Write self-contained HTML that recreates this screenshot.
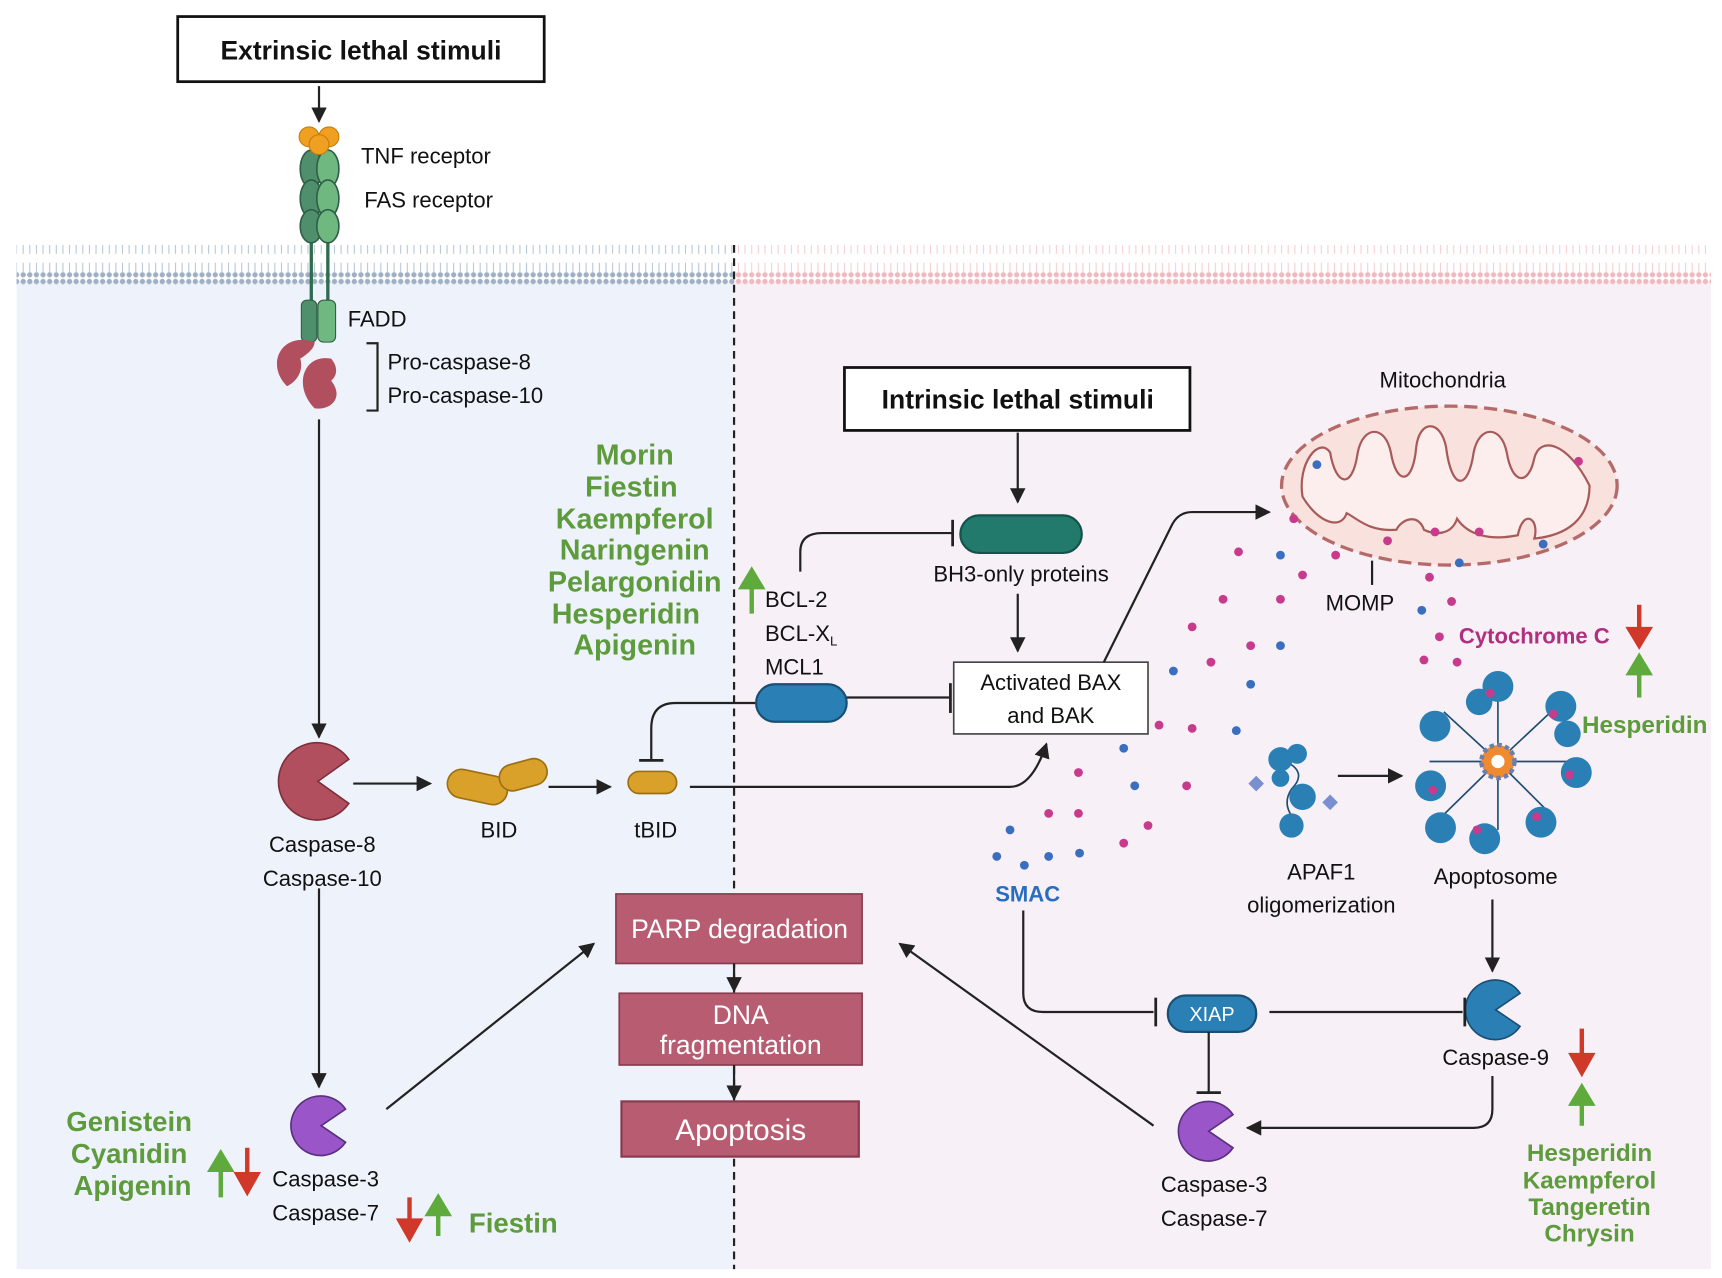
<!DOCTYPE html>
<html><head><meta charset="utf-8"><style>html,body{margin:0;padding:0;background:#fff}svg{display:block}text{font-family:"Liberation Sans",sans-serif}</style></head><body>
<svg width="1722" height="1278" viewBox="0 0 1560 1158" preserveAspectRatio="none" xmlns="http://www.w3.org/2000/svg">
<defs>
<marker id="ar" viewBox="0 0 10 10" refX="9" refY="5" markerWidth="7" markerHeight="7" orient="auto"><path d="M0,0L10,5L0,10z" fill="#222"/></marker>
<pattern id="mb" width="6" height="36" patternUnits="userSpaceOnUse"><circle cx="3" cy="3" r="2.4" fill="#9fb0c4"/><circle cx="3" cy="33" r="2.4" fill="#9fb0c4"/><line x1="3" y1="5" x2="3" y2="14" stroke="#b8c6d6" stroke-width="1"/><line x1="3" y1="22" x2="3" y2="31" stroke="#b8c6d6" stroke-width="1"/></pattern>
<pattern id="mp" width="6" height="36" patternUnits="userSpaceOnUse"><circle cx="3" cy="3" r="2.4" fill="#f0b8bf"/><circle cx="3" cy="33" r="2.4" fill="#f0b8bf"/><line x1="3" y1="5" x2="3" y2="14" stroke="#f5cfd3" stroke-width="1"/><line x1="3" y1="22" x2="3" y2="31" stroke="#f5cfd3" stroke-width="1"/></pattern>
</defs>
<rect x="15" y="255" width="650" height="895" fill="#eef3fb"/>
<rect x="665" y="255" width="885" height="895" fill="#f7f0f6"/>
<rect x="15" y="222" width="650" height="36" fill="url(#mb)"/>
<rect x="665" y="222" width="885" height="36" fill="url(#mp)"/>
<line x1="665" y1="222" x2="665" y2="1150" stroke="#222" stroke-width="2" stroke-dasharray="7,5"/>

<rect x="161" y="15" width="332" height="59" fill="#fff" stroke="#111" stroke-width="2.5"/>
<text x="327" y="54" font-size="24" font-weight="bold" text-anchor="middle" fill="#111">Extrinsic lethal stimuli</text>
<line x1="289" y1="78" x2="289" y2="110" stroke="#222" stroke-width="2" marker-end="url(#ar)"/>
<!-- receptor -->
<line x1="282" y1="210" x2="282" y2="280" stroke="#2f6b4f" stroke-width="3"/>
<line x1="297" y1="210" x2="297" y2="280" stroke="#2f6b4f" stroke-width="3"/>
<g fill="#4f8f6b" stroke="#2f5f48" stroke-width="1.5">
<ellipse cx="282" cy="153" rx="10" ry="17"/><ellipse cx="282" cy="180" rx="10" ry="17"/><ellipse cx="282" cy="205" rx="10" ry="15"/>
</g>
<g fill="#6fb87f" stroke="#2f5f48" stroke-width="1.5">
<ellipse cx="297" cy="153" rx="10" ry="17"/><ellipse cx="297" cy="180" rx="10" ry="17"/><ellipse cx="297" cy="205" rx="10" ry="15"/>
</g>
<g fill="#f0a020" stroke="#c77c10"><circle cx="280" cy="124" r="9"/><circle cx="298" cy="124" r="9"/><circle cx="289" cy="131" r="9"/></g>
<rect x="273" y="272" width="14" height="38" rx="5" fill="#4f8f6b" stroke="#2f5f48"/>
<rect x="288" y="272" width="16" height="38" rx="5" fill="#6fb87f" stroke="#2f5f48"/>
<path d="M285,310 C255,300 240,330 260,350 C270,345 275,335 272,325 C280,320 285,315 285,310Z" fill="#b24f5e"/>
<path d="M300,325 C275,320 265,350 285,370 C300,372 312,360 300,345 C306,340 306,332 300,325Z" fill="#b24f5e"/>
<text x="327" y="148" font-size="20" fill="#111">TNF receptor</text>
<text x="330" y="188" font-size="20" fill="#111">FAS receptor</text>
<text x="315" y="296" font-size="20" fill="#111">FADD</text>
<path d="M332,311 H342 V372 H332" fill="none" stroke="#222" stroke-width="2"/>
<text x="351" y="335" font-size="20" fill="#111">Pro-caspase-8</text>
<text x="351" y="365" font-size="20" fill="#111">Pro-caspase-10</text>
<line x1="289" y1="380" x2="289" y2="668" stroke="#222" stroke-width="2" marker-end="url(#ar)"/>
<!-- caspase 8 -->
<path d="M288,708 L316,688 A35,35 0 1 0 316,728 Z" fill="#b24f5e" stroke="#7d2f3c" stroke-width="1.5"/>
<text x="292" y="772" font-size="20" text-anchor="middle" fill="#111">Caspase-8</text>
<text x="292" y="803" font-size="20" text-anchor="middle" fill="#111">Caspase-10</text>
<line x1="320" y1="710" x2="390" y2="710" stroke="#222" stroke-width="2" marker-end="url(#ar)"/>
<rect x="405" y="700" width="55" height="26" rx="13" fill="#d9a02a" stroke="#9c6f12" stroke-width="1.5" transform="rotate(12 432 713)"/>
<rect x="452" y="690" width="44" height="24" rx="12" fill="#d9a02a" stroke="#9c6f12" stroke-width="1.5" transform="rotate(-15 474 702)"/>
<text x="452" y="759" font-size="20" text-anchor="middle" fill="#111">BID</text>
<line x1="497" y1="713" x2="553" y2="713" stroke="#222" stroke-width="2" marker-end="url(#ar)"/>
<rect x="569" y="699" width="44" height="20" rx="10" fill="#d9a02a" stroke="#9c6f12" stroke-width="1.5"/>
<text x="594" y="759" font-size="20" text-anchor="middle" fill="#111">tBID</text>
<path d="M685,637 H612 Q590,637 590,660 V688" fill="none" stroke="#222" stroke-width="2"/>
<line x1="579" y1="689" x2="601" y2="689" stroke="#222" stroke-width="2.5"/>
<path d="M625,713 H915 Q935,713 948,674" fill="none" stroke="#222" stroke-width="2" marker-end="url(#ar)"/>
<!-- flavonoid list -->
<g font-size="26" font-weight="bold" fill="#5e9b3c" text-anchor="middle">
<text x="575" y="421">Morin</text><text x="572" y="450">Fiestin</text><text x="575" y="479">Kaempferol</text><text x="575" y="507">Naringenin</text><text x="575" y="536">Pelargonidin</text><text x="567" y="565">Hesperidin</text><text x="575" y="593">Apigenin</text>
</g>
<path d="M681,556 V530 M672,532 L681,517 L690,532Z" stroke="#5eaa3c" stroke-width="4" fill="#5eaa3c"/>
<text x="693" y="550" font-size="20" fill="#111">BCL-2</text>
<text x="693" y="581" font-size="20" fill="#111">BCL-X<tspan font-size="12" dy="4">L</tspan></text>
<text x="693" y="611" font-size="20" fill="#111">MCL1</text>
<rect x="685" y="620" width="82" height="34" rx="17" fill="#2a80b5" stroke="#1a4f75" stroke-width="2"/>
<line x1="767" y1="632" x2="860" y2="632" stroke="#222" stroke-width="2"/>
<line x1="861" y1="619" x2="861" y2="646" stroke="#222" stroke-width="2.5"/>
<path d="M725,518 V500 Q725,483 745,483 H862" fill="none" stroke="#222" stroke-width="2"/>
<line x1="863" y1="471" x2="863" y2="495" stroke="#222" stroke-width="2.5"/>
<rect x="870" y="467" width="110" height="34" rx="17" fill="#217a6c" stroke="#14534a" stroke-width="2"/>
<text x="925" y="527" font-size="20" text-anchor="middle" fill="#111">BH3-only proteins</text>
<rect x="765" y="333" width="313" height="57" fill="#fff" stroke="#111" stroke-width="2.5"/>
<text x="922" y="370" font-size="24" font-weight="bold" text-anchor="middle" fill="#111">Intrinsic lethal stimuli</text>
<line x1="922" y1="392" x2="922" y2="455" stroke="#222" stroke-width="2" marker-end="url(#ar)"/>
<line x1="922" y1="538" x2="922" y2="590" stroke="#222" stroke-width="2" marker-end="url(#ar)"/>
<rect x="864" y="600" width="176" height="65" fill="#fff" stroke="#444" stroke-width="1.5"/>
<text x="952" y="625" font-size="20" text-anchor="middle" fill="#111">Activated BAX</text>
<text x="952" y="655" font-size="20" text-anchor="middle" fill="#111">and BAK</text>
<path d="M1000,600 L1062,475 Q1068,464 1080,464 H1150" fill="none" stroke="#222" stroke-width="2" marker-end="url(#ar)"/>
<!-- mitochondria -->
<text x="1307" y="351" font-size="20" text-anchor="middle" fill="#111">Mitochondria</text>
<ellipse cx="1313" cy="440" rx="152" ry="72" fill="#f9e2de" stroke="#b56a6a" stroke-width="3" stroke-dasharray="12,6"/>
<path d="M1180,450 C1175,420 1195,395 1205,410 C1210,440 1225,445 1230,410 C1235,385 1255,385 1260,410 C1265,440 1280,440 1283,405 C1286,380 1305,380 1310,405 C1315,445 1330,445 1335,410 C1340,385 1360,385 1365,410 C1370,440 1385,440 1390,415 C1395,395 1420,400 1440,440 C1440,470 1420,485 1390,488 C1395,470 1380,460 1375,485 C1350,490 1330,485 1320,470 C1315,485 1300,485 1290,480 C1285,465 1270,470 1265,480 C1240,482 1230,470 1220,465 C1215,480 1195,475 1180,450Z" fill="#fbeeec" stroke="#a85a5a" stroke-width="2"/>
<line x1="1243" y1="508" x2="1243" y2="530" stroke="#222" stroke-width="2"/>
<text x="1232" y="553" font-size="20" text-anchor="middle" fill="#111">MOMP</text>
<g fill="#c83a8c">
<circle cx="1172" cy="470" r="4"/><circle cx="1210" cy="503" r="4"/><circle cx="1257" cy="490" r="4"/><circle cx="1300" cy="482" r="4"/><circle cx="1340" cy="482" r="4"/><circle cx="1430" cy="418" r="4"/>
<circle cx="1122" cy="500" r="4"/><circle cx="1180" cy="521" r="4"/><circle cx="1160" cy="543" r="4"/><circle cx="1108" cy="543" r="4"/><circle cx="1080" cy="568" r="4"/><circle cx="1133" cy="585" r="4"/><circle cx="1097" cy="600" r="4"/><circle cx="1050" cy="657" r="4"/><circle cx="1080" cy="660" r="4"/><circle cx="1075" cy="712" r="4"/><circle cx="977" cy="700" r="4"/><circle cx="950" cy="737" r="4"/><circle cx="977" cy="737" r="4"/><circle cx="1040" cy="748" r="4"/><circle cx="1018" cy="764" r="4"/>
<circle cx="1295" cy="523" r="4"/><circle cx="1315" cy="545" r="4"/><circle cx="1304" cy="577" r="4"/><circle cx="1290" cy="598" r="4"/><circle cx="1320" cy="600" r="4"/>
</g>
<g fill="#3a6fc0">
<circle cx="1193" cy="421" r="4"/><circle cx="1398" cy="493" r="4"/><circle cx="1160" cy="503" r="4"/><circle cx="1160" cy="585" r="4"/><circle cx="1063" cy="608" r="4"/><circle cx="1133" cy="620" r="4"/><circle cx="1120" cy="662" r="4"/><circle cx="1018" cy="678" r="4"/><circle cx="1028" cy="712" r="4"/><circle cx="915" cy="752" r="4"/><circle cx="903" cy="776" r="4"/><circle cx="928" cy="784" r="4"/><circle cx="950" cy="776" r="4"/><circle cx="978" cy="773" r="4"/><circle cx="1322" cy="510" r="4"/><circle cx="1288" cy="553" r="4"/>
</g>
<text x="1390" y="583" font-size="20" font-weight="bold" text-anchor="middle" fill="#b03080">Cytochrome C</text>
<path d="M1485,548 V572 M1476,570 L1485,585 L1494,570Z" stroke="#d0382a" stroke-width="4" fill="#d0382a"/>
<path d="M1485,632 V608 M1476,610 L1485,595 L1494,610Z" stroke="#5eaa3c" stroke-width="4" fill="#5eaa3c"/>
<text x="1490" y="664" font-size="22" font-weight="bold" text-anchor="middle" fill="#5e9b3c">Hesperidin</text>
<!-- apoptosome -->
<g stroke="#1f4f70" stroke-width="1.5">
<line x1="1357" y1="690" x2="1420" y2="690"/><line x1="1357" y1="690" x2="1405" y2="645"/><line x1="1357" y1="690" x2="1357" y2="628"/><line x1="1357" y1="690" x2="1308" y2="645"/><line x1="1357" y1="690" x2="1295" y2="690"/><line x1="1357" y1="690" x2="1308" y2="738"/><line x1="1357" y1="690" x2="1357" y2="752"/><line x1="1357" y1="690" x2="1405" y2="738"/>
</g>
<g fill="#2a80b5">
<circle cx="1428" cy="700" r="14"/><circle cx="1414" cy="640" r="14"/><circle cx="1357" cy="622" r="14"/><circle cx="1300" cy="658" r="14"/><circle cx="1296" cy="712" r="14"/><circle cx="1305" cy="750" r="14"/><circle cx="1345" cy="760" r="14"/><circle cx="1396" cy="745" r="14"/><circle cx="1340" cy="636" r="12"/><circle cx="1420" cy="665" r="12"/>
</g>
<g fill="#c83a8c"><circle cx="1422" cy="702" r="4"/><circle cx="1407" cy="647" r="4"/><circle cx="1350" cy="628" r="4"/><circle cx="1298" cy="716" r="4"/><circle cx="1338" cy="752" r="4"/><circle cx="1392" cy="740" r="4"/></g>
<circle cx="1357" cy="690" r="15" fill="#f08a30" stroke="#6a7fb0" stroke-width="4" stroke-dasharray="4,3"/>
<circle cx="1357" cy="690" r="6" fill="#fff"/>
<!-- APAF1 -->
<path d="M1165,690 Q1185,700 1170,715 Q1160,730 1175,745" fill="none" stroke="#1f4f70" stroke-width="1.5"/>
<g fill="#2a80b5"><circle cx="1160" cy="688" r="11"/><circle cx="1175" cy="683" r="9"/><circle cx="1180" cy="722" r="12"/><circle cx="1170" cy="748" r="11"/><circle cx="1160" cy="705" r="8"/></g>
<rect x="1133" y="705" width="10" height="10" fill="#7a8fd0" transform="rotate(45 1138 710)"/>
<rect x="1200" y="722" width="10" height="10" fill="#7a8fd0" transform="rotate(45 1205 727)"/>
<line x1="1212" y1="703" x2="1270" y2="703" stroke="#222" stroke-width="2" marker-end="url(#ar)"/>
<text x="1197" y="797" font-size="20" text-anchor="middle" fill="#111">APAF1</text>
<text x="1197" y="827" font-size="20" text-anchor="middle" fill="#111">oligomerization</text>
<text x="1355" y="801" font-size="20" text-anchor="middle" fill="#111">Apoptosome</text>
<line x1="1352" y1="815" x2="1352" y2="880" stroke="#222" stroke-width="2" marker-end="url(#ar)"/>
<path d="M1355,915 L1377,900 A27,27 0 1 0 1377,930 Z" fill="#2a80b5" stroke="#1a4f75" stroke-width="1.5"/>
<text x="1355" y="965" font-size="20" text-anchor="middle" fill="#111">Caspase-9</text>
<path d="M1433,932 V958 M1424,956 L1433,972 L1442,956Z" stroke="#d0382a" stroke-width="4" fill="#d0382a"/>
<path d="M1433,1020 V998 M1424,1000 L1433,985 L1442,1000Z" stroke="#5eaa3c" stroke-width="4" fill="#5eaa3c"/>
<g font-size="22" font-weight="bold" fill="#5e9b3c" text-anchor="middle">
<text x="1440" y="1052">Hesperidin</text><text x="1440" y="1077">Kaempferol</text><text x="1440" y="1101">Tangeretin</text><text x="1440" y="1125">Chrysin</text>
</g>
<text x="931" y="817" font-size="20" font-weight="bold" text-anchor="middle" fill="#2a6cc0">SMAC</text>
<path d="M927,825 V900 Q927,917 945,917 H1045" fill="none" stroke="#222" stroke-width="2"/>
<line x1="1047" y1="904" x2="1047" y2="930" stroke="#222" stroke-width="2.5"/>
<rect x="1058" y="902" width="80" height="33" rx="16" fill="#2a80b5" stroke="#1a4f75" stroke-width="2"/>
<text x="1098" y="925" font-size="18" text-anchor="middle" fill="#fff">XIAP</text>
<line x1="1150" y1="917" x2="1325" y2="917" stroke="#222" stroke-width="2"/>
<line x1="1327" y1="904" x2="1327" y2="930" stroke="#222" stroke-width="2.5"/>
<line x1="1095" y1="935" x2="1095" y2="990" stroke="#222" stroke-width="2"/>
<line x1="1084" y1="990" x2="1106" y2="990" stroke="#222" stroke-width="2.5"/>
<path d="M1095,1025 L1117,1010 A27,27 0 1 0 1117,1040 Z" fill="#9a55c8" stroke="#5a2f80" stroke-width="1.5"/>
<text x="1100" y="1080" font-size="20" text-anchor="middle" fill="#111">Caspase-3</text>
<text x="1100" y="1111" font-size="20" text-anchor="middle" fill="#111">Caspase-7</text>
<path d="M1352,975 V1005 Q1352,1022 1335,1022 H1130" fill="none" stroke="#222" stroke-width="2" marker-end="url(#ar)"/>
<line x1="1045" y1="1020" x2="815" y2="855" stroke="#222" stroke-width="2" marker-end="url(#ar)"/>
<!-- central boxes -->
<rect x="558" y="810" width="223" height="63" fill="#b85c72" stroke="#8a3a4e" stroke-width="1.5"/>
<text x="670" y="850" font-size="24" text-anchor="middle" fill="#fff">PARP degradation</text>
<rect x="561" y="900" width="220" height="65" fill="#b85c72" stroke="#8a3a4e" stroke-width="1.5"/>
<text x="671" y="928" font-size="24" text-anchor="middle" fill="#fff">DNA</text>
<text x="671" y="955" font-size="24" text-anchor="middle" fill="#fff">fragmentation</text>
<rect x="563" y="998" width="215" height="50" fill="#b85c72" stroke="#8a3a4e" stroke-width="2"/>
<text x="671" y="1033" font-size="27" text-anchor="middle" fill="#fff">Apoptosis</text>
<line x1="665" y1="873" x2="665" y2="898" stroke="#222" stroke-width="2" marker-end="url(#ar)"/>
<line x1="665" y1="965" x2="665" y2="996" stroke="#222" stroke-width="2" marker-end="url(#ar)"/>
<!-- left caspase 3 -->
<line x1="289" y1="805" x2="289" y2="985" stroke="#222" stroke-width="2" marker-end="url(#ar)"/>
<path d="M291,1020 L313,1005 A27,27 0 1 0 313,1035 Z" fill="#9a55c8" stroke="#5a2f80" stroke-width="1.5"/>
<text x="295" y="1075" font-size="20" text-anchor="middle" fill="#111">Caspase-3</text>
<text x="295" y="1106" font-size="20" text-anchor="middle" fill="#111">Caspase-7</text>
<line x1="350" y1="1005" x2="538" y2="855" stroke="#222" stroke-width="2" marker-end="url(#ar)"/>
<g font-size="25" font-weight="bold" fill="#5e9b3c" text-anchor="middle">
<text x="117" y="1025">Genistein</text><text x="117" y="1054">Cyanidin</text><text x="120" y="1083">Apigenin</text>
</g>
<path d="M200,1085 V1058 M191,1060 L200,1045 L209,1060Z" stroke="#5eaa3c" stroke-width="4" fill="#5eaa3c"/>
<path d="M224,1040 V1066 M215,1064 L224,1080 L233,1064Z" stroke="#d0382a" stroke-width="4" fill="#d0382a"/>
<path d="M371,1085 V1108 M362,1106 L371,1122 L380,1106Z" stroke="#d0382a" stroke-width="4" fill="#d0382a"/>
<path d="M397,1120 V1098 M388,1100 L397,1085 L406,1100Z" stroke="#5eaa3c" stroke-width="4" fill="#5eaa3c"/>
<text x="465" y="1117" font-size="25" font-weight="bold" text-anchor="middle" fill="#5e9b3c">Fiestin</text>
</svg>
</body></html>
